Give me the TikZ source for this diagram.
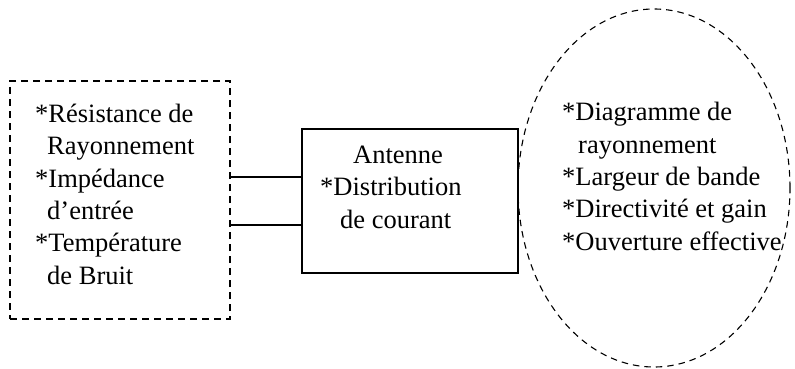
\documentclass[tikz,border=0pt]{standalone}
\usepackage{fontspec}
\setmainfont{Liberation Serif}
\usetikzlibrary{shapes.geometric}

\tikzset{
	pointille/.style={draw,dashed,dash pattern=on 7pt off 5pt,line width=1.2pt,inner sep=0pt},
	texte/.style={align=left,inner sep=0pt,anchor=base west,font=\fontsize{26.5}{32.3}\selectfont}
}

\begin{document}
\begin{tikzpicture}[x=1pt,y=-1pt]
		\useasboundingbox (0,0) rectangle (795,369);
		\draw node at (120,200) [rectangle,pointille,minimum width=220pt,minimum height=238pt] (proprietes) {};
		\draw node at (410,201) [rectangle,draw,line width=1.3pt,minimum width=216pt,minimum height=144pt] (antenne) {};
		\draw node at (654,188) [ellipse,pointille,dash pattern=on 6.5pt off 5pt,line width=1.1pt,minimum width=272pt,minimum height=358pt] (rayonnement) {};
		% ancre = ligne de base de la derniere ligne
		\draw (35,284) node [texte] (gauche) {*Résistance de\\\hspace*{12pt}Rayonnement\\*Impédance\\\hspace*{12pt}d’entrée\\*Température\\\hspace*{12pt}de Bruit};
		\draw (320,228) node [texte] (centre) {\hspace*{33pt}Antenne\\*Distribution\\\hspace*{20pt}de courant};
		\draw (562,250) node [texte] (droite) {*Diagramme de\\\hspace*{16pt}rayonnement\\*Largeur de bande\\*Directivité et gain\\*Ouverture effective};
		\draw[line width=1.3pt] ([yshift=24pt]antenne.west) -- ([yshift=24pt]antenne.west -| proprietes.east);
		\draw[line width=1.3pt] ([yshift=-24pt]antenne.west) -- ([yshift=-24pt]antenne.west -| proprietes.east);
	\end{tikzpicture}
\end{document}
